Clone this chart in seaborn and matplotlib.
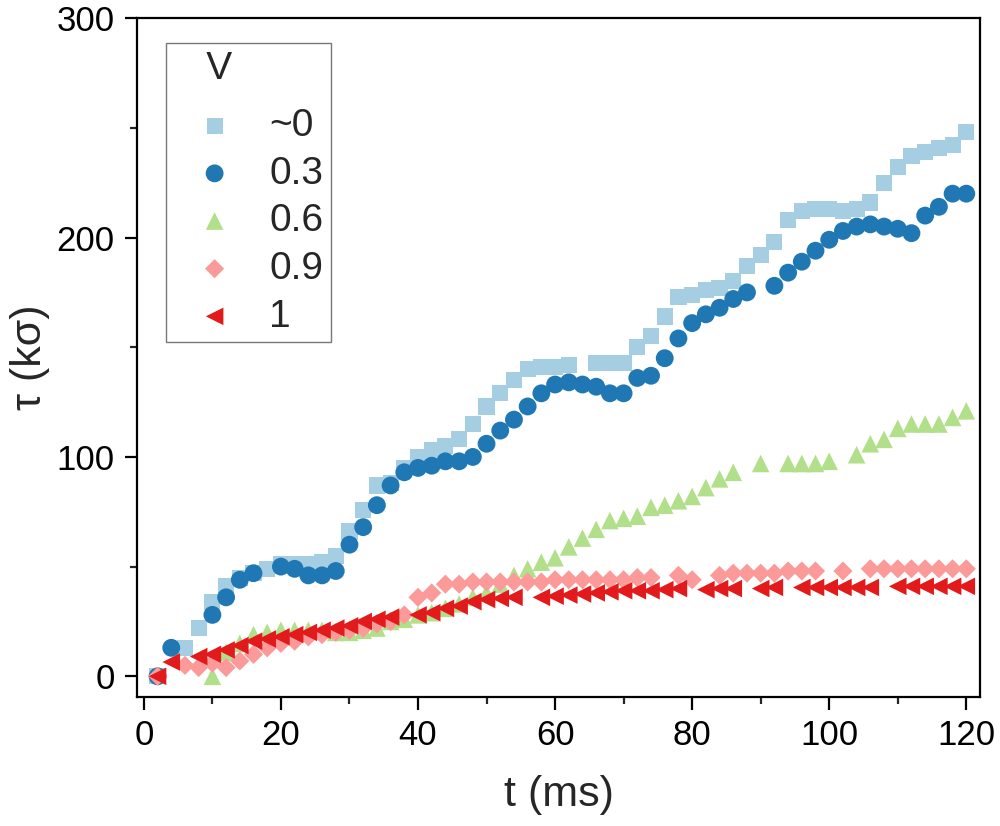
import matplotlib
matplotlib.use("Agg")
import matplotlib.pyplot as plt
import seaborn as sns
import pandas as pd
from matplotlib.ticker import MultipleLocator

# ---- data ----
t_v0 = [2, 6, 8, 10, 12, 14, 16, 18, 20, 22, 24, 26, 28, 30, 32, 34, 36, 38, 40, 42,
        44, 46, 48, 50, 52, 54, 56, 58, 60, 62, 66, 68, 70, 72, 74, 76, 78, 80, 82, 84,
        86, 88, 90, 92, 94, 96, 98, 100, 102, 104, 106, 108, 110, 112, 114, 116, 118, 120]
tau_v0 = [0, 13, 22, 34, 41, 45, 47, 49, 51, 51, 51, 52, 55, 66, 76, 87, 88, 95, 100, 103,
          105, 108, 115, 123, 129, 135, 140, 141, 141, 142, 143, 143, 143, 150, 155, 164, 173, 174, 176, 177,
          180, 187, 192, 198, 208, 212, 213, 213, 212, 213, 216, 225, 232, 237, 239, 241, 242, 248]

t_v03 = [2, 4, 10, 12, 14, 16, 20, 22, 24, 26, 28, 30, 32, 34, 36, 38, 40, 42, 44, 46,
         48, 50, 52, 54, 56, 58, 60, 62, 64, 66, 68, 70, 72, 74, 76, 78, 80, 82, 84, 86,
         88, 92, 94, 96, 98, 100, 102, 104, 106, 108, 110, 112, 114, 116, 118, 120]
tau_v03 = [0, 13, 28, 36, 44, 47, 50, 49, 46, 46, 48, 60, 68, 78, 87, 93, 95, 96, 98, 98,
           100, 106, 112, 117, 123, 129, 133, 134, 133, 132, 129, 129, 136, 137, 145, 154, 161, 165, 168, 172,
           175, 178, 184, 189, 194, 199, 203, 205, 206, 205, 204, 202, 210, 214, 220, 220]

t_v06 = [10, 12, 14, 16, 18, 20, 22, 24, 26, 28, 30, 32, 34, 36,
         38, 40, 42, 44, 46, 48, 50, 52, 54, 56, 58, 60, 62, 64, 66, 68, 70, 72, 74, 76, 78, 80, 82, 84, 86,
         90, 94, 96, 98, 100, 104, 106, 108, 110, 112, 114, 116, 118, 120]
tau_v06 = [0, 11, 15, 19, 20, 21, 21, 21, 21, 20, 20, 21, 22, 25,
           26, 28, 29, 31, 33, 36, 38, 42, 46, 49, 52, 54, 59, 63, 67, 71, 72, 73, 77, 78, 80, 82, 86, 90, 93,
           97, 97, 97, 97, 98, 101, 106, 108, 113, 115, 115, 115, 118, 121]

t_v09 = [2, 6, 8, 10, 12, 14, 16, 18, 20,
         22, 24, 26, 28, 30, 32, 34, 36, 38, 40, 42, 44, 46, 48, 50, 52, 54, 56, 58, 60, 62, 64, 66, 68, 70, 72, 74,
         78, 80, 84, 86, 88, 90, 92, 94, 96, 98, 102, 106, 108, 110, 112, 114, 116, 118, 120]
tau_v09 = [0, 5, 4, 6, 4, 7, 10, 13, 15,
           16, 18, 19, 20, 21, 22, 24, 25, 28, 36, 38, 42, 42, 43, 43, 43, 43, 43, 43, 44, 44, 44, 44, 44, 44, 45, 45,
           46, 44, 46, 47, 47, 47, 47, 48, 48, 48, 48, 49, 49, 49, 49, 49, 49, 49, 49]

t_v1 = [2, 4, 8, 10, 12, 14, 16, 18, 20, 22, 24, 26, 28, 30, 32, 34, 36, 40, 42, 44,
        46, 48, 50, 52, 54, 58, 60, 62, 64, 66, 68, 70, 72, 74, 76, 78, 82, 84, 86, 90,
        92, 96, 98, 100, 102, 104, 106, 110, 112, 114, 116, 118, 120]
tau_v1 = [0, 6.5, 9, 10, 12, 14, 16, 17, 18, 19, 20, 21, 22, 23, 25, 26, 27, 28, 29, 31,
          32, 34, 35, 35.5, 36, 36, 36.5, 37, 37.5, 38, 38.5, 39, 39, 39, 39.5, 40, 39.5, 40, 40, 40,
          40.5, 40.5, 40.5, 40.5, 40.5, 40.5, 40.5, 41, 41, 41, 41, 41, 41]

labels = ["~0", "0.3", "0.6", "0.9", "1"]

# ---- style ----
sns.set_theme(style="ticks")
plt.rcParams["font.family"] = ["Liberation Sans", "DejaVu Sans"]

pal = sns.color_palette("Paired")
colors = [pal[0], pal[1], pal[2], pal[4], pal[5]]
markers = ["s", "o", "^", "D", "<"]
sizes = [135, 165, 160, 95, 160]

fig, ax = plt.subplots(figsize=(10, 8.26), dpi=100)
fig.subplots_adjust(left=0.137, right=0.98, bottom=0.156, top=0.978)

data = [(t_v0, tau_v0), (t_v03, tau_v03), (t_v06, tau_v06), (t_v09, tau_v09), (t_v1, tau_v1)]
for (t, tau), lab, c, m, s in zip(data, labels, colors, markers, sizes):
    df = pd.DataFrame({"t": t, "tau": tau})
    sns.scatterplot(data=df, x="t", y="tau", ax=ax, marker=m, color=c, s=s,
                    linewidth=0, edgecolor="none", label=lab)

ax.set_xlim(-1, 122)
ax.set_ylim(-9.5, 300)
ax.xaxis.set_major_locator(MultipleLocator(20))
ax.xaxis.set_minor_locator(MultipleLocator(10))
ax.yaxis.set_major_locator(MultipleLocator(100))
ax.yaxis.set_minor_locator(MultipleLocator(50))

for sp in ax.spines.values():
    sp.set_linewidth(1.6)
    sp.set_color("black")
ax.tick_params(which="major", direction="out", length=9, width=1.6, labelsize=25, pad=7, colors="black")
ax.tick_params(which="minor", direction="out", length=5, width=1.6)

ax.set_xlabel("t (ms)", fontsize=31, labelpad=16)
ax.set_ylabel("τ (kσ)", fontsize=31, labelpad=5)

leg = ax.legend(title="   V", loc="upper left", bbox_to_anchor=(0.0344, 0.963),
                borderaxespad=0, frameon=True, fancybox=False, fontsize=28,
                title_fontsize=28, alignment="left", handlelength=2.1,
                handletextpad=0.36, labelspacing=0.30, borderpad=0.2)
leg._legend_box.sep = 15
leg.get_frame().set_edgecolor("#555555")
leg.get_frame().set_linewidth(1.0)

fig.savefig("out.png", dpi=100)
